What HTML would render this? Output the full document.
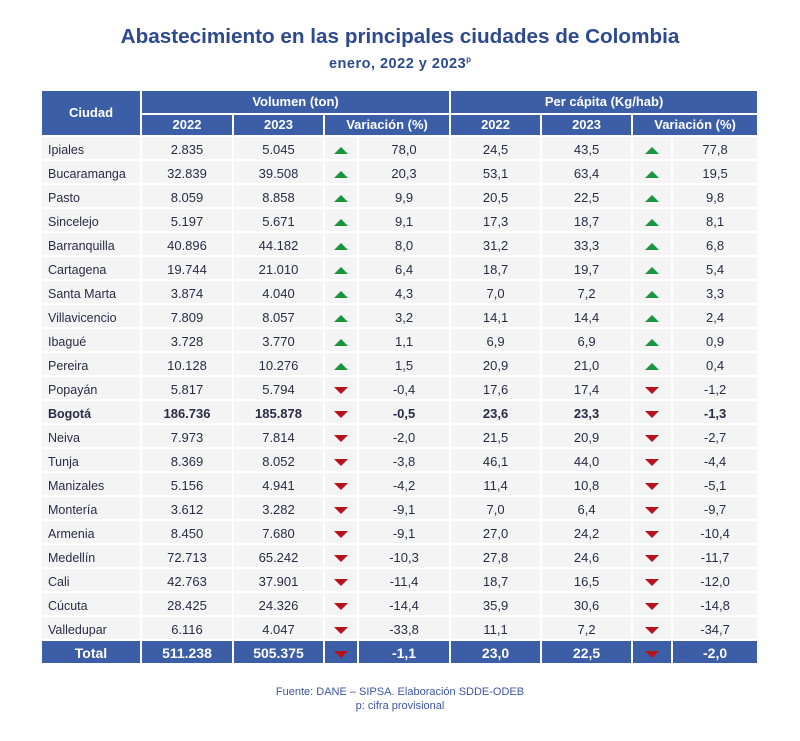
<!DOCTYPE html>
<html><head><meta charset="utf-8">
<style>
html,body{margin:0;padding:0;background:#fff;}
body{width:800px;height:741px;position:relative;overflow:hidden;font-family:"Liberation Sans",sans-serif;}
.title{position:absolute;left:0;width:800px;top:24px;text-align:center;font-weight:bold;font-size:20.7px;color:#2d4a8e;line-height:26px;white-space:nowrap;}
.sub{position:absolute;left:0;width:800px;top:50px;text-align:center;font-weight:bold;font-size:14.5px;letter-spacing:0.5px;color:#2d4a8e;line-height:20px;}
.sub sup{font-size:8px;vertical-align:6px;letter-spacing:0;}
table{position:absolute;left:40px;top:89px;width:719px;border-collapse:separate;border-spacing:2px;table-layout:fixed;}
td,th{padding:0;}
th{background:#3b5ea6;color:#fff;font-weight:bold;font-size:13px;text-align:center;}
tr.h1 th{height:22px;line-height:22px;}
tr.h2 th{height:20px;line-height:20px;}
td{background:#f4f4f4;height:18px;padding-top:4px;line-height:18px;font-size:13px;color:#2a2c45;text-align:center;white-space:nowrap;vertical-align:top;overflow:hidden;}
td.c{text-align:left;padding-left:6px;font-size:12.5px;}
td.a{height:12px;padding-top:10px;line-height:0;}
tr.b td{font-weight:bold;}
tr.t td{background:#3b5ea6;color:#fff;font-weight:bold;font-size:14px;height:20px;padding-top:2px;line-height:20px;}
tr.t td.a{height:12px;padding-top:10px;line-height:0;}
tr.t td.c{text-align:center;padding-left:0;font-size:14px;}
.up{display:block;margin:0 auto;width:0;height:0;border-left:7px solid transparent;border-right:7px solid transparent;border-bottom:7px solid #1a9641;}
.dn{display:block;margin:0 auto;width:0;height:0;border-left:7px solid transparent;border-right:7px solid transparent;border-top:7px solid #b5121b;}
.foot{position:absolute;left:0;width:800px;text-align:center;font-size:11px;color:#3d55a0;line-height:14px;}
</style></head><body>
<div class="title">Abastecimiento en las principales ciudades de Colombia</div>
<div class="sub">enero, 2022 y 2023<sup>p</sup></div>
<table>
<colgroup><col style="width:98px"><col style="width:90px"><col style="width:89px"><col style="width:32px"><col style="width:90px"><col style="width:89px"><col style="width:89px"><col style="width:38px"><col style="width:84px"></colgroup>
<tr class="h1"><th rowspan="2">Ciudad</th><th colspan="4">Volumen (ton)</th><th colspan="4">Per cápita (Kg/hab)</th></tr>
<tr class="h2"><th>2022</th><th>2023</th><th colspan="2">Variación (%)</th><th>2022</th><th>2023</th><th colspan="2">Variación (%)</th></tr>
<tr><td class="c">Ipiales</td><td>2.835</td><td>5.045</td><td class="a"><span class="up"></span></td><td>78,0</td><td>24,5</td><td>43,5</td><td class="a"><span class="up"></span></td><td>77,8</td></tr>
<tr><td class="c">Bucaramanga</td><td>32.839</td><td>39.508</td><td class="a"><span class="up"></span></td><td>20,3</td><td>53,1</td><td>63,4</td><td class="a"><span class="up"></span></td><td>19,5</td></tr>
<tr><td class="c">Pasto</td><td>8.059</td><td>8.858</td><td class="a"><span class="up"></span></td><td>9,9</td><td>20,5</td><td>22,5</td><td class="a"><span class="up"></span></td><td>9,8</td></tr>
<tr><td class="c">Sincelejo</td><td>5.197</td><td>5.671</td><td class="a"><span class="up"></span></td><td>9,1</td><td>17,3</td><td>18,7</td><td class="a"><span class="up"></span></td><td>8,1</td></tr>
<tr><td class="c">Barranquilla</td><td>40.896</td><td>44.182</td><td class="a"><span class="up"></span></td><td>8,0</td><td>31,2</td><td>33,3</td><td class="a"><span class="up"></span></td><td>6,8</td></tr>
<tr><td class="c">Cartagena</td><td>19.744</td><td>21.010</td><td class="a"><span class="up"></span></td><td>6,4</td><td>18,7</td><td>19,7</td><td class="a"><span class="up"></span></td><td>5,4</td></tr>
<tr><td class="c">Santa Marta</td><td>3.874</td><td>4.040</td><td class="a"><span class="up"></span></td><td>4,3</td><td>7,0</td><td>7,2</td><td class="a"><span class="up"></span></td><td>3,3</td></tr>
<tr><td class="c">Villavicencio</td><td>7.809</td><td>8.057</td><td class="a"><span class="up"></span></td><td>3,2</td><td>14,1</td><td>14,4</td><td class="a"><span class="up"></span></td><td>2,4</td></tr>
<tr><td class="c">Ibagué</td><td>3.728</td><td>3.770</td><td class="a"><span class="up"></span></td><td>1,1</td><td>6,9</td><td>6,9</td><td class="a"><span class="up"></span></td><td>0,9</td></tr>
<tr><td class="c">Pereira</td><td>10.128</td><td>10.276</td><td class="a"><span class="up"></span></td><td>1,5</td><td>20,9</td><td>21,0</td><td class="a"><span class="up"></span></td><td>0,4</td></tr>
<tr><td class="c">Popayán</td><td>5.817</td><td>5.794</td><td class="a"><span class="dn"></span></td><td>-0,4</td><td>17,6</td><td>17,4</td><td class="a"><span class="dn"></span></td><td>-1,2</td></tr>
<tr class="b"><td class="c">Bogotá</td><td>186.736</td><td>185.878</td><td class="a"><span class="dn"></span></td><td>-0,5</td><td>23,6</td><td>23,3</td><td class="a"><span class="dn"></span></td><td>-1,3</td></tr>
<tr><td class="c">Neiva</td><td>7.973</td><td>7.814</td><td class="a"><span class="dn"></span></td><td>-2,0</td><td>21,5</td><td>20,9</td><td class="a"><span class="dn"></span></td><td>-2,7</td></tr>
<tr><td class="c">Tunja</td><td>8.369</td><td>8.052</td><td class="a"><span class="dn"></span></td><td>-3,8</td><td>46,1</td><td>44,0</td><td class="a"><span class="dn"></span></td><td>-4,4</td></tr>
<tr><td class="c">Manizales</td><td>5.156</td><td>4.941</td><td class="a"><span class="dn"></span></td><td>-4,2</td><td>11,4</td><td>10,8</td><td class="a"><span class="dn"></span></td><td>-5,1</td></tr>
<tr><td class="c">Montería</td><td>3.612</td><td>3.282</td><td class="a"><span class="dn"></span></td><td>-9,1</td><td>7,0</td><td>6,4</td><td class="a"><span class="dn"></span></td><td>-9,7</td></tr>
<tr><td class="c">Armenia</td><td>8.450</td><td>7.680</td><td class="a"><span class="dn"></span></td><td>-9,1</td><td>27,0</td><td>24,2</td><td class="a"><span class="dn"></span></td><td>-10,4</td></tr>
<tr><td class="c">Medellín</td><td>72.713</td><td>65.242</td><td class="a"><span class="dn"></span></td><td>-10,3</td><td>27,8</td><td>24,6</td><td class="a"><span class="dn"></span></td><td>-11,7</td></tr>
<tr><td class="c">Cali</td><td>42.763</td><td>37.901</td><td class="a"><span class="dn"></span></td><td>-11,4</td><td>18,7</td><td>16,5</td><td class="a"><span class="dn"></span></td><td>-12,0</td></tr>
<tr><td class="c">Cúcuta</td><td>28.425</td><td>24.326</td><td class="a"><span class="dn"></span></td><td>-14,4</td><td>35,9</td><td>30,6</td><td class="a"><span class="dn"></span></td><td>-14,8</td></tr>
<tr><td class="c">Valledupar</td><td>6.116</td><td>4.047</td><td class="a"><span class="dn"></span></td><td>-33,8</td><td>11,1</td><td>7,2</td><td class="a"><span class="dn"></span></td><td>-34,7</td></tr>
<tr class="t"><td class="c">Total</td><td>511.238</td><td>505.375</td><td class="a"><span class="dn"></span></td><td>-1,1</td><td>23,0</td><td>22,5</td><td class="a"><span class="dn"></span></td><td>-2,0</td></tr>
</table>
<div class="foot" style="top:685px;">Fuente: DANE – SIPSA. Elaboración SDDE-ODEB</div>
<div class="foot" style="top:699px;">p: cifra provisional</div>
</body></html>
